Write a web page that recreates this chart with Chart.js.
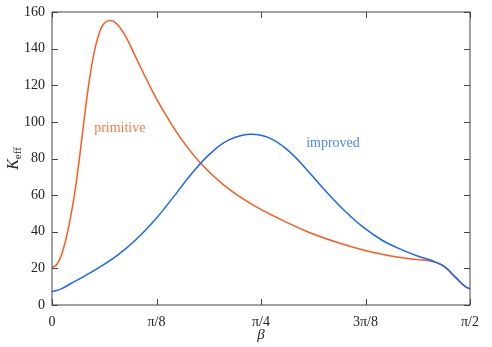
<!DOCTYPE html>
<html>
<head>
<meta charset="utf-8">
<script src="https://cdn.jsdelivr.net/npm/chart.js@4"></script>
<style>
  html, body { margin: 0; padding: 0; background: #fff; }
  #wrap { width: 492px; height: 347px; }
</style>
</head>
<body>
<div id="wrap"><canvas id="chart"></canvas></div>
<script>
// beta in degrees (0 .. 90 = pi/2)
const betaPrimitive = [0, 1, 2, 3, 4, 5, 6, 7, 8, 9, 10, 11, 12.5, 14, 16, 18, 20.4, 23.3, 27.6, 32, 37, 42.6, 49, 55, 61, 67, 73, 78, 82, 84.5, 87, 89, 90];
const kPrimitive = [20.5, 22, 27, 36, 48, 63, 82, 103, 122, 137, 147, 153, 155.3, 153.5, 146, 135.5, 123, 109, 91.5, 77.4, 65.5, 55.6, 47, 40, 34.5, 30, 26.8, 25, 23.8, 21, 14.8, 10, 8.8];

const betaImproved = [0, 2, 4, 7, 10, 14, 18, 22, 26, 30, 34, 38, 42.6, 47, 51, 55, 59, 63, 67, 71, 75, 79, 82, 84.5, 87, 89, 90];
const kImproved = [7.3, 8.8, 11.6, 15.8, 20.3, 27, 35.5, 46, 58.5, 71.5, 82.5, 90, 93.2, 91, 84, 73.5, 62, 51.5, 42.5, 35.5, 30.5, 26.5, 24, 21, 14.8, 10, 8.8];

const tickValues = [0, 22.5, 45, 67.5, 90];
const tickLabels = ["0", "π/8", "π/4", "3π/8", "π/2"];
const yTicks = [0, 20, 40, 60, 80, 100, 120, 140, 160];

const orange = "#ff5a1e";
const blue = "#1a64ff";
const serif = "'Liberation Serif', 'DejaVu Serif', serif";

const toPoints = (xs, ys) => xs.map((x, i) => ({ x: x, y: ys[i] }));

// frame with inward ticks on all four sides, plus curve labels
const framePlugin = {
  id: "frame",
  afterDatasetsDraw(chart) {
    const { ctx, chartArea: a, scales } = chart;
    ctx.save();
    ctx.strokeStyle = "#444";
    ctx.lineWidth = 1;
    ctx.strokeRect(a.left, a.top, a.right - a.left, a.bottom - a.top);
    ctx.beginPath();
    tickValues.forEach(v => {
      const px = Math.round(scales.x.getPixelForValue(v)) + 0.5;
      ctx.moveTo(px, a.bottom); ctx.lineTo(px, a.bottom - 6);
      ctx.moveTo(px, a.top); ctx.lineTo(px, a.top + 6);
    });
    yTicks.forEach(v => {
      const py = Math.round(scales.y.getPixelForValue(v)) + 0.5;
      ctx.moveTo(a.left, py); ctx.lineTo(a.left + 6, py);
      ctx.moveTo(a.right, py); ctx.lineTo(a.right - 6, py);
    });
    ctx.stroke();

    ctx.font = "14px " + serif;
    ctx.textAlign = "center";
    ctx.textBaseline = "middle";
    ctx.fillStyle = "#ff7a4a";
    ctx.fillText("primitive", scales.x.getPixelForValue(14.6), scales.y.getPixelForValue(96.5));
    ctx.fillStyle = "#4a86ff";
    ctx.fillText("improved", scales.x.getPixelForValue(60.5), scales.y.getPixelForValue(88.5));

    // axis titles
    ctx.fillStyle = "#222";
    ctx.font = "italic 15px " + serif;
    ctx.fillText("β", (a.left + a.right) / 2, 335);
    ctx.translate(14, (a.top + a.bottom) / 2);
    ctx.rotate(-Math.PI / 2);
    ctx.textAlign = "left";
    ctx.font = "11px " + serif;
    const sw = ctx.measureText("eff").width;
    ctx.font = "italic 16px " + serif;
    const kw = ctx.measureText("K").width;
    const start = -(kw + sw) / 2;
    ctx.fillText("K", start, 0);
    ctx.font = "11px " + serif;
    ctx.fillText("eff", start + kw, 4);
    ctx.restore();
  }
};

new Chart(document.getElementById("chart"), {
  type: "scatter",
  plugins: [framePlugin],
  data: {
    datasets: [
      {
        label: "primitive",
        data: toPoints(betaPrimitive, kPrimitive),
        showLine: true,
        borderColor: orange,
        borderWidth: 1.5,
        pointRadius: 0,
        tension: 0.4,
        order: 1
      },
      {
        label: "improved",
        data: toPoints(betaImproved, kImproved),
        showLine: true,
        borderColor: blue,
        borderWidth: 1.5,
        pointRadius: 0,
        tension: 0.4,
        order: 0
      }
    ]
  },
  options: {
    responsive: true,
    maintainAspectRatio: false,
    animation: false,
    layout: { padding: { left: 0, right: 22, top: 12, bottom: 0 } },
    plugins: { legend: { display: false }, tooltip: { enabled: false } },
    scales: {
      x: {
        type: "linear",
        min: 0,
        max: 90,
        afterBuildTicks: axis => { axis.ticks = tickValues.map(v => ({ value: v })); },
        afterFit: axis => { axis.height = 42; axis.paddingLeft = 0; axis.paddingRight = 0; },
        grid: { display: false, drawTicks: false },
        border: { display: false },
        ticks: {
          padding: 9,
          color: "#222",
          font: { family: serif, size: 14 },
          callback: (v) => tickLabels[tickValues.indexOf(v)]
        }
      },
      y: {
        min: 0,
        max: 160,
        afterBuildTicks: axis => { axis.ticks = yTicks.map(v => ({ value: v })); },
        afterFit: axis => { axis.width = 52; axis.paddingTop = 0; axis.paddingBottom = 0; },
        grid: { display: false, drawTicks: false },
        border: { display: false },
        ticks: {
          padding: 7,
          color: "#222",
          font: { family: serif, size: 14 }
        }
      }
    }
  }
});
</script>
</body>
</html>
